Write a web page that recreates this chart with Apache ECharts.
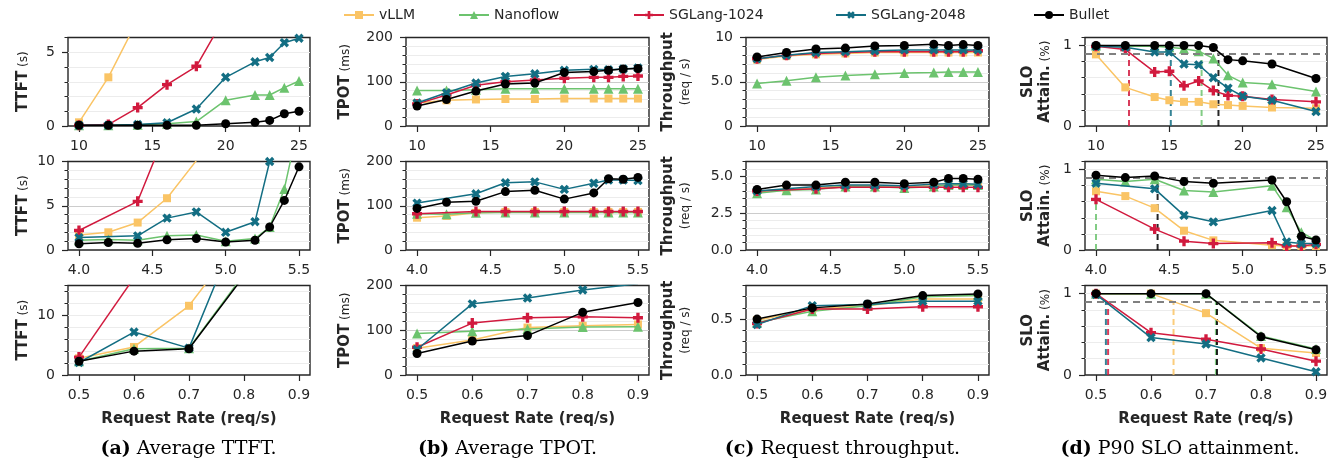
<!DOCTYPE html>
<html><head><meta charset="utf-8">
<script src="https://cdn.jsdelivr.net/npm/echarts@6/dist/echarts.min.js"></script>
<style>html,body{margin:0;padding:0;background:#fff}#c{width:1338px;height:463px}</style>
</head><body><div id="c"></div><script>
// ---------- categories / x values ----------
const seriesNames = ['vLLM','Nanoflow','SGLang-1024','SGLang-2048','Bullet'];
const xHigh = [10,12,14,16,18,20,22,23,24,25];
const xMid = [4.0,4.2,4.4,4.6,4.8,5.0,5.2,5.3,5.4,5.5];
const xLow = [0.5,0.6,0.7,0.8,0.9];
const xSloHigh = [10,12,14,15,16,17,18,19,20,22,25];
const xSloMid = [4.0,4.2,4.4,4.6,4.8,5.2,5.3,5.4,5.5];

// ---------- series values (order: vLLM, Nanoflow, SGLang-1024, SGLang-2048, Bullet) ----------
const ttftHigh = [
  [0.25,3.3,7.2,null,null,null,null,null,null,null],
  [0.05,0.05,0.08,0.15,0.3,1.75,2.1,2.1,2.6,3.05],
  [0.05,0.1,1.25,2.8,4.05,7.5,null,null,null,null],
  [0.05,0.05,0.1,0.22,1.15,3.3,4.35,4.65,5.65,5.95],
  [0.05,0.05,0.05,0.05,0.05,0.15,0.25,0.38,0.83,1.0]
];
const ttftMid = [
  [1.7,2.0,3.1,5.85,10.1,null,null,null,null,null],
  [1.1,1.2,1.1,1.6,1.7,1.0,1.3,2.6,6.9,14.5],
  [2.2,null,5.5,13.7,null,null,null,null,null,null],
  [1.4,null,1.6,3.6,4.3,2.0,3.2,10.0,null,null],
  [0.7,0.85,0.75,1.15,1.3,0.9,1.1,2.6,5.6,9.4]
];
const ttftLow = [
  [2.8,4.7,11.6,23.7,null],
  [2.3,4.4,4.5,16.9,null],
  [3.0,16.3,null,null,null],
  [2.1,7.2,4.5,27,null],
  [2.3,4.0,4.4,16.6,null]
];
const tpotHigh = [
  [52,58,60,61,61,62,62,62,62,62],
  [80,80,82,84,84,84,84,84,84,84],
  [50,70,92,100,104,108,110,110,112,113],
  [52,75,97,112,118,126,128,127,129,131],
  [45,60,79,95,97,121,123,126,129,130]
];
const tpotMid = [
  [73,77,84,86,86,86,86,86,86,86],
  [82,81,84,85,85,85,85,85,85,85],
  [82,null,87,87,87,87,87,87,87,87],
  [106,null,127,152,154,137,151,158,158,157],
  [94,108,110,132,135,115,129,161,160,164]
];
const tpotLow = [
  [60,78,106,110,113],
  [93,98,103,107,108],
  [62,116,128,130,128],
  [57,159,172,190,204],
  [48,76,88,140,162]
];
const thrHigh = [
  [7.5,7.9,8.1,8.2,8.3,8.3,8.3,8.3,8.3,8.3],
  [4.8,5.1,5.5,5.7,5.85,6.0,6.05,6.1,6.1,6.1],
  [7.6,8.0,8.2,8.3,8.4,8.4,8.4,8.4,8.4,8.5],
  [7.6,8.0,8.3,8.4,8.5,8.6,8.6,8.6,8.6,8.6],
  [7.8,8.3,8.7,8.8,9.05,9.1,9.25,9.1,9.2,9.1]
];
const thrMid = [
  [3.95,4.1,4.2,4.35,4.35,4.3,4.35,4.4,4.4,4.4],
  [3.85,4.05,4.1,4.3,4.3,4.2,4.3,4.4,4.4,4.4],
  [4.0,null,4.15,4.25,4.25,4.25,4.25,4.25,4.25,4.25],
  [4.0,null,4.3,4.4,4.4,4.35,4.45,4.5,4.5,4.45],
  [4.1,4.4,4.4,4.6,4.6,4.5,4.6,4.85,4.85,4.8]
];
const thrLow = [
  [0.49,0.59,0.62,0.68,0.68],
  [0.47,0.57,0.62,0.70,0.71],
  [0.46,0.59,0.59,0.61,0.61],
  [0.45,0.62,0.63,0.66,0.66],
  [0.50,0.60,0.635,0.71,0.725]
];
const sloHigh = [
  [0.89,0.48,0.36,0.32,0.30,0.30,0.27,0.26,0.25,0.23,0.22],
  [1.0,0.99,0.99,0.98,0.96,0.93,0.84,0.63,0.54,0.52,0.43],
  [0.99,0.95,0.67,0.68,0.50,0.56,0.44,0.38,0.37,0.33,0.30],
  [0.99,0.98,0.92,0.92,0.77,0.76,0.60,0.47,0.37,0.32,0.18],
  [1.0,1.0,1.0,1.0,1.0,1.0,0.975,0.825,0.81,0.77,0.59]
];
const sloMid = [
  [0.73,0.67,0.52,0.24,0.12,0.06,0.05,0.05,0.05],
  [0.88,0.85,0.88,0.74,0.72,0.80,0.53,0.22,0.12],
  [0.63,null,0.26,0.11,0.08,0.09,0.05,0.05,0.07],
  [0.83,null,0.76,0.43,0.35,0.49,0.10,0.08,0.08],
  [0.93,0.90,0.92,0.85,0.83,0.87,0.60,0.17,0.125]
];
const sloLow = [
  [1.0,1.0,0.76,0.33,0.27],
  [1.0,1.0,1.0,0.48,0.32],
  [1.0,0.52,0.44,0.32,0.17],
  [0.99,0.46,0.38,0.21,0.04],
  [1.0,1.0,1.0,0.47,0.31]
];
// rate at which each system's P90 attainment crosses the SLO target (vertical dashed lines)
const sloTarget = 0.9;
const sloCrossHigh = [null,17.2,12.25,15.1,18.35];
const sloCrossMid = [null,4.0,null,null,4.42];
const sloCrossLow = [0.641,0.718,0.522,0.518,0.72];

// ---------- tick labels ----------
const xTickValues = [[10,15,20,25],[4.0,4.5,5.0,5.5],[0.5,0.6,0.7,0.8,0.9]];
const xTickLabels = [['10','15','20','25'],['4.0','4.5','5.0','5.5'],['0.5','0.6','0.7','0.8','0.9']];
const yTickLabels = [
  [['0','5'],['0','100','200'],['0','5.0','10'],['0','1']],
  [['0','5','10'],['0','100','200'],['0.0','2.5','5.0'],['0','1']],
  [['0','10'],['0','100','200'],['0.0','0.5'],['0','1']]
];
const yAxisNames = ['{b|TTFT} {s|(s)}','{b|TPOT} {s|(ms)}','{b|Throughput}\n{s|(req / s)}','{b|SLO}\n{b|Attain.} {s|(%)}'];
const captions = [['(a)','Average TTFT.'],['(b)','Average TPOT.'],['(c)','Request throughput.'],['(d)','P90 SLO attainment.']];

// ---------- styling / layout ----------
const colors = ['#FAC465','#6CC36E','#D11A3E','#136E83','#000000'];
const PLUS = 'path://M-1,-3H1V-1H3V1H1V3H-1V1H-3V-1H-1Z';
const symbols = ['rect','triangle',PLUS,PLUS,'circle'];
const symRot = [0,0,0,45,0];
const symSize = [8,10,10,10,9];
const colLeft = [68,406,746,1085];
const colWidth = [242,243,243,242];
const captionCenter = [188.5,507.5,842.5,1180];
const rowTop = [37.5,161.5,285.5];
const rowHeight = [88.5,88.5,89.5];
const xRange = [[9.25,25.75],[3.925,5.575],[0.48,0.92]];
const yMax = [[6,200,10,1.1],[10,200,6,1.1],[15,200,0.8,1.1]];
const yMinor = [[1,20,1,0.2],[1,20,0.5,0.2],[2,20,0.1,0.2]];
const yMajor = [[5,100,5,1],[5,100,2.5,1],[10,100,0.5,1]];
const nameGaps = [36,52,52,31];
const TXT = '#262626';
const FONT = 'DejaVu Sans';

const panelData = [[ttftHigh,tpotHigh,thrHigh,sloHigh],[ttftMid,tpotMid,thrMid,sloMid],[ttftLow,tpotLow,thrLow,sloLow]];
const panelX = [[xHigh,xHigh,xHigh,xSloHigh],[xMid,xMid,xMid,xSloMid],[xLow,xLow,xLow,xLow]];
const sloCross = [sloCrossHigh,sloCrossMid,sloCrossLow];

const grids=[], xAxes=[], yAxes=[], yOver=[], series=[];
for (let r=0;r<3;r++){
  for (let c=0;c<4;c++){
    const g=r*4+c;
    grids.push({left:colLeft[c],top:rowTop[r],width:colWidth[c],height:rowHeight[r],show:true,
      borderColor:TXT,borderWidth:1.4,backgroundColor:'transparent',containLabel:false});
    xAxes.push({type:'value',gridIndex:g,position:'bottom',min:xRange[r][0],max:xRange[r][1],
      axisLine:{show:false},splitLine:{show:false},
      axisTick:{show:true,customValues:xTickValues[r],length:6,lineStyle:{color:TXT,width:1.2}},
      axisLabel:{customValues:xTickValues[r],margin:13,fontSize:14,fontFamily:FONT,color:TXT,
        formatter:(v)=>{const i=xTickValues[r].findIndex(t=>Math.abs(t-v)<1e-6);return i>=0?xTickLabels[r][i]:'';}},
      name: r===2?'Request Rate (req/s)':'',nameLocation:'middle',nameGap:37,
      nameTextStyle:{fontSize:15,fontWeight:'bold',fontFamily:FONT,color:TXT}});
    const majors=yTickLabels[r][c].map((_,i)=>+(i*yMajor[r][c]).toFixed(6));
    yAxes.push({type:'value',gridIndex:g,position:'left',min:0,max:yMax[r][c],interval:yMinor[r][c],
      axisLine:{show:false},
      splitLine:{show:true,showMinLine:false,showMaxLine:false,lineStyle:{color:'#ececec',width:1}},
      axisTick:{show:true,length:3.5,lineStyle:{color:TXT,width:1}},
      axisLabel:{customValues:majors,margin:13,fontSize:14,fontFamily:FONT,color:TXT,
        formatter:(v)=>{const i=majors.findIndex(t=>Math.abs(t-v)<1e-6);return i>=0?yTickLabels[r][c][i]:'';}},
      name:yAxisNames[c],nameLocation:'middle',nameRotate:90,nameGap:nameGaps[c],
      nameTextStyle:{fontFamily:FONT,color:TXT,lineHeight:17,
        rich:{b:{fontSize:15,fontWeight:'bold',fontFamily:FONT,color:TXT,lineHeight:17},
              s:{fontSize:12,fontFamily:FONT,color:TXT,lineHeight:17}}}});
    yOver.push({type:'value',gridIndex:g,position:'left',offset:0,min:0,max:yMax[r][c],interval:yMajor[r][c],
      axisLine:{show:false},axisLabel:{show:false},
      axisTick:{show:true,customValues:majors,length:6,lineStyle:{color:TXT,width:1.2}},
      splitLine:{show:true,showMinLine:false,showMaxLine:false,lineStyle:{color:'#cccccc',width:1.2}}});
    const xs=panelX[r][c], d=panelData[r][c];
    if (c===3){
      sloCross[r].forEach((xc,s)=>{
        if (xc===null) return;
        series.push({type:'line',name:'cross-'+seriesNames[s],xAxisIndex:g,yAxisIndex:g,
          data:[[xc,0],[xc,sloTarget]],symbol:'none',z:1,silent:true,
          lineStyle:{color:colors[s],width:2,type:[6,4],opacity:0.85}});
      });
    }
    for (let s=0;s<5;s++){
      const pts=xs.map((x,i)=>[x,d[s][i]]).filter(p=>p[1]!==null);
      const ser={type:'line',name:seriesNames[s],xAxisIndex:g,yAxisIndex:g,data:pts,
        symbol:symbols[s],symbolSize:symSize[s],symbolRotate:symRot[s],showSymbol:true,clip:true,
        z:2+s,lineStyle:{color:colors[s],width:1.5},itemStyle:{color:colors[s]}};
      if (c===3 && s===4){
        ser.markLine={silent:true,symbol:['none','none'],label:{show:false},animation:false,
          lineStyle:{color:'#808080',type:[7,5],width:2},data:[{yAxis:sloTarget}]};
      }
      series.push(ser);
    }
  }
}

const legendLeft=[338,453,628,830,1028];
const legends=seriesNames.map((n,i)=>({data:[n],left:legendLeft[i],top:3,itemWidth:30,itemHeight:10,itemGap:0,
  selectedMode:false,textStyle:{fontSize:14,fontFamily:FONT,color:TXT}}));

const graphics=captions.map((cp,c)=>({type:'text',x:captionCenter[c],y:449,
  style:{text:'{b|'+cp[0]+'} '+cp[1],fontSize:19,fontFamily:'DejaVu Serif',fill:'#000',align:'center',verticalAlign:'middle',
    rich:{b:{fontSize:19,fontFamily:'DejaVu Serif',fontWeight:'bold',fill:'#000'}}}}));

const chart=echarts.init(document.getElementById('c'),null,{renderer:'canvas'});
chart.setOption({animation:false,backgroundColor:'#fff',grid:grids,xAxis:xAxes,yAxis:yAxes.concat(yOver),
  legend:legends,series:series,graphic:graphics});
</script></body></html>
